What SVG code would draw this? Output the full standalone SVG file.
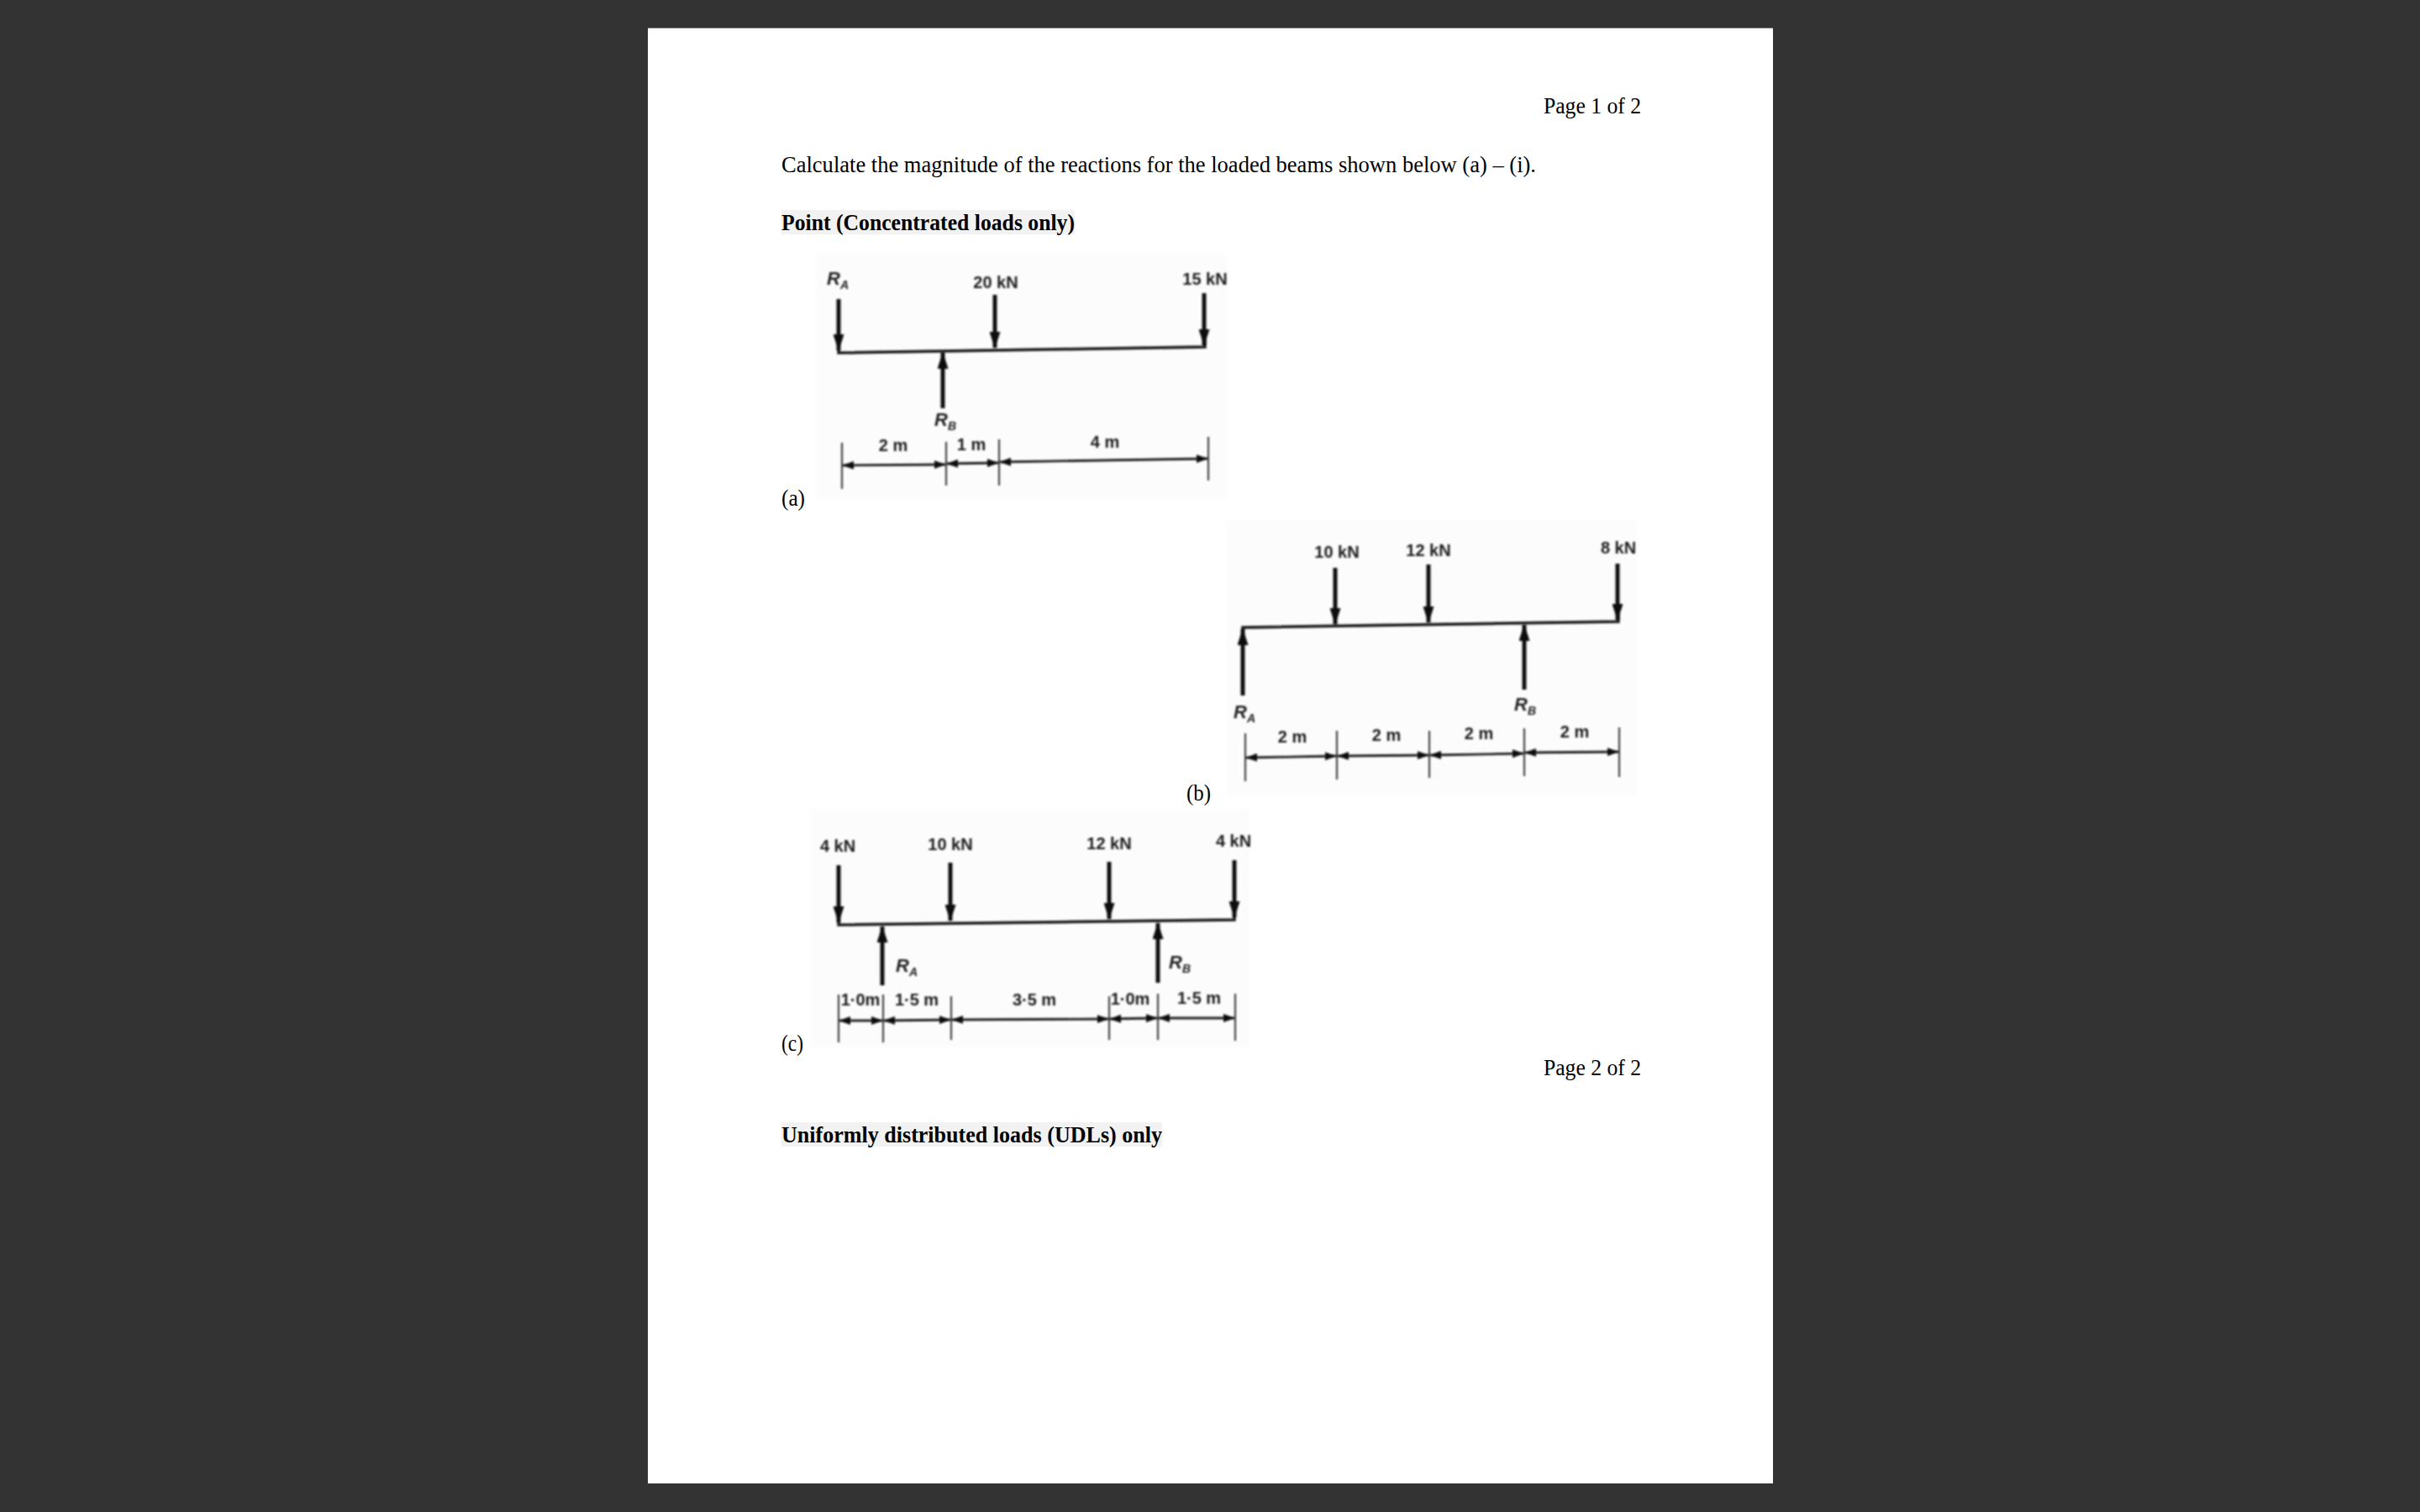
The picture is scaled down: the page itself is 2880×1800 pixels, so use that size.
<svg xmlns="http://www.w3.org/2000/svg" width="2880" height="1800" viewBox="0 0 2880 1800">
<defs>
<filter id="soft" x="-5%" y="-5%" width="110%" height="110%"><feGaussianBlur stdDeviation="0.9"/></filter>
<filter id="softer" x="-5%" y="-5%" width="110%" height="110%"><feGaussianBlur stdDeviation="2.5"/></filter>
<marker id="ah" viewBox="0 0 10 10" refX="9.5" refY="5" markerWidth="14" markerHeight="10" markerUnits="userSpaceOnUse" orient="auto-start-reverse" preserveAspectRatio="none"><path d="M0 0L10 5L0 10Z" fill="#111"/></marker>
<marker id="la" viewBox="0 0 10 10" refX="9.5" refY="5" markerWidth="20" markerHeight="13" markerUnits="userSpaceOnUse" orient="auto" preserveAspectRatio="none"><path d="M0 0L10 5L0 10Z" fill="#111"/></marker>
</defs>
<style>
.t{font-family:"Liberation Serif",serif;font-size:28px;fill:#000}
.b{font-weight:bold}
.l{font-family:"Liberation Sans",Arial,sans-serif;font-size:20px;font-weight:bold;fill:#1c1c1c;text-anchor:middle}
.r{font-family:"Liberation Sans",Arial,sans-serif;font-size:22px;font-weight:bold;font-style:italic;fill:#222;text-anchor:middle}
.s{font-size:14px}
.beam{stroke:#1a1a1a;stroke-width:3.5;fill:none}
.load{stroke:#111;stroke-width:5;fill:none;marker-end:url(#la)}
.tick{stroke:#444;stroke-width:2.2;fill:none}
.dim{stroke:#222;stroke-width:2.8;fill:none;marker-start:url(#ah);marker-end:url(#ah)}
.photo{fill:#fcfcfc}
</style>
<rect width="2880" height="1800" fill="#333"/>
<rect x="771" y="33" width="1339" height="1733" fill="#fff"/>
<rect x="771" y="33" width="1339" height="1" fill="#999"/>

<g id="page-text">
<text class="t" x="1837" y="135" textLength="116" lengthAdjust="spacingAndGlyphs">Page 1 of 2</text>
<text class="t" x="930" y="205" textLength="898" lengthAdjust="spacingAndGlyphs">Calculate the magnitude of the reactions for the loaded beams shown below (a) – (i).</text>
<rect x="930" y="250" width="349" height="29" fill="#f2f2f2"/>
<text class="t b" x="930" y="274" textLength="349" lengthAdjust="spacingAndGlyphs">Point (Concentrated loads only)</text>
<text class="t" x="930" y="602" textLength="28" lengthAdjust="spacingAndGlyphs">(a)</text>
<text class="t" x="1412" y="953" textLength="29" lengthAdjust="spacingAndGlyphs">(b)</text>
<text class="t" x="930" y="1251" textLength="26" lengthAdjust="spacingAndGlyphs">(c)</text>
<text class="t" x="1837" y="1280" textLength="116" lengthAdjust="spacingAndGlyphs">Page 2 of 2</text>
<rect x="930" y="1336" width="453" height="29" fill="#f2f2f2"/>
<text class="t b" x="930" y="1360" textLength="453" lengthAdjust="spacingAndGlyphs">Uniformly distributed loads (UDLs) only</text>
</g>

<g id="beam-a">
<rect class="photo" x="970" y="302" width="490" height="292" filter="url(#softer)"/>
<g filter="url(#soft)">
<path class="beam" d="M998 405V420L1434 413V400"/>
<g id="connectors-a">
<path class="load" d="M998 356V417"/>
<path class="load" d="M1184 351V414"/>
<path class="load" d="M1433 349V411"/>
<path class="load" d="M1122 486V420"/>
<path class="tick" d="M1002 527V582M1126 526V578M1189 523V578M1438 520V572"/>
<path class="dim" d="M1003 554L1125 553"/>
<path class="dim" d="M1127 552L1188 551"/>
<path class="dim" d="M1190 550L1437 546"/>
</g>
<text class="r" x="997" y="339">R<tspan class="s" dy="5">A</tspan></text>
<text class="l" x="1185" y="343">20 kN</text>
<text class="l" x="1434" y="339">15 kN</text>
<text class="r" x="1125" y="507">R<tspan class="s" dy="5">B</tspan></text>
<text class="l" x="1063" y="537">2 m</text>
<text class="l" x="1156" y="536">1 m</text>
<text class="l" x="1315" y="533">4 m</text>
</g>
</g>

<g id="beam-b">
<rect class="photo" x="1459" y="620" width="490" height="326" filter="url(#softer)"/>
<g filter="url(#soft)">
<path class="beam" d="M1479 760V747L1926 740V725"/>
<g id="connectors-b">
<path class="load" d="M1589 676V743"/>
<path class="load" d="M1700 672V741"/>
<path class="load" d="M1925 671V738"/>
<path class="load" d="M1479 828V749"/>
<path class="load" d="M1814 821V744"/>
<path class="tick" d="M1482 873V930M1591 870V928M1701 870V926M1814 867V924M1927 866V925"/>
<path class="dim" d="M1483 902L1590 900"/>
<path class="dim" d="M1592 900L1700 899"/>
<path class="dim" d="M1702 899L1813 897"/>
<path class="dim" d="M1815 896L1926 895"/>
</g>
<text class="l" x="1591" y="664">10 kN</text>
<text class="l" x="1700" y="662">12 kN</text>
<text class="l" x="1926" y="659">8 kN</text>
<text class="r" x="1481" y="855">R<tspan class="s" dy="5">A</tspan></text>
<text class="r" x="1815" y="846">R<tspan class="s" dy="5">B</tspan></text>
<text class="l" x="1538" y="884">2 m</text>
<text class="l" x="1650" y="882">2 m</text>
<text class="l" x="1760" y="880">2 m</text>
<text class="l" x="1874" y="878">2 m</text>
</g>
</g>

<g id="beam-c">
<rect class="photo" x="965" y="962" width="522" height="285" filter="url(#softer)"/>
<g filter="url(#soft)">
<path class="beam" d="M998 1085V1101L1469 1095V1080"/>
<g id="connectors-c">
<path class="load" d="M998 1030V1098"/>
<path class="load" d="M1131 1027V1096"/>
<path class="load" d="M1320 1026V1094"/>
<path class="load" d="M1469 1024V1092"/>
<path class="load" d="M1050 1173V1103"/>
<path class="load" d="M1378 1170V1099"/>
<path class="tick" d="M998 1184V1241M1051 1184V1241M1132 1186V1238M1320 1186V1238M1378 1183V1238M1470 1183V1239"/>
<path class="dim" d="M999 1215L1050 1215"/>
<path class="dim" d="M1052 1215L1131 1214"/>
<path class="dim" d="M1133 1214L1319 1213"/>
<path class="dim" d="M1321 1213L1377 1212"/>
<path class="dim" d="M1379 1212L1469 1212"/>
</g>
<text class="l" x="997" y="1014">4 kN</text>
<text class="l" x="1131" y="1012">10 kN</text>
<text class="l" x="1320" y="1011">12 kN</text>
<text class="l" x="1468" y="1008">4 kN</text>
<text class="r" x="1079" y="1157">R<tspan class="s" dy="5">A</tspan></text>
<text class="r" x="1404" y="1153">R<tspan class="s" dy="5">B</tspan></text>
<text class="l" x="1024" y="1197">1·0m</text>
<text class="l" x="1091" y="1197">1·5 m</text>
<text class="l" x="1231" y="1197">3·5 m</text>
<text class="l" x="1345" y="1196">1·0m</text>
<text class="l" x="1427" y="1195">1·5 m</text>
</g>
</g>
</svg>
